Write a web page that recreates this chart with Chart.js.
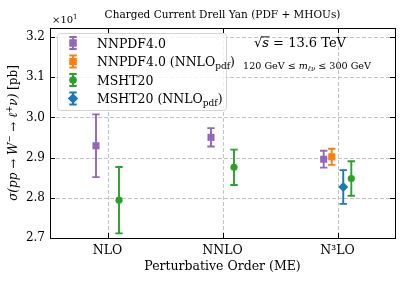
<!DOCTYPE html>
<html><head><meta charset="utf-8">
<script src="https://cdn.jsdelivr.net/npm/chart.js@4.4.1/dist/chart.umd.min.js"></script>
<style>html,body{margin:0;padding:0;background:#fff;}canvas{display:block;}</style>
</head><body>
<canvas id="c" width="407" height="285"></canvas>
<script>
// perturbative orders on the x axis and y ticks (x10^1 pb)
const orders = ['NLO', 'NNLO', 'N³LO'];
const yTicks = [2.7, 2.8, 2.9, 3.0, 3.1, 3.2];

// central values and symmetric uncertainties, one entry per order (null = not shown)
const nnpdfVal    = [2.9295, 2.9505, 2.896];
const nnpdfErr    = [0.078, 0.023, 0.021];
const nnpdfPdfVal = [null, null, 2.902];
const nnpdfPdfErr = [null, null, 0.020];
const mshtVal     = [2.794, 2.876, 2.848];
const mshtErr     = [0.0825, 0.044, 0.043];
const mshtPdfVal  = [null, null, 2.827];
const mshtPdfErr  = [null, null, 0.042];

const SERIF = '"DejaVu Serif", serif';

// series styling; dx = horizontal dodge per order
const series = [
  { name: 'NNPDF4.0', sub: null, vals: nnpdfVal, errs: nnpdfErr, color: '#9467bd', shape: 'rect', r: 5, dx: [-0.1, -0.1, -0.12] },
  { name: 'NNPDF4.0 (NNLO', sub: 'pdf', vals: nnpdfPdfVal, errs: nnpdfPdfErr, color: '#ff7f0e', shape: 'rect', r: 5, dx: [0, 0, -0.05] },
  { name: 'MSHT20', sub: null, vals: mshtVal, errs: mshtErr, color: '#2ca02c', shape: 'circle', r: 3.6, dx: [0.1, 0.1, 0.12] },
  { name: 'MSHT20 (NNLO', sub: 'pdf', vals: mshtPdfVal, errs: mshtPdfErr, color: '#1f77b4', shape: 'rectRot', r: 5, dx: [0, 0, 0.05] }
];

function font(s) {
  return (s.it ? 'italic ' : '') + s.size + 'px ' + SERIF;
}
// draws a run of text pieces (for sub/superscripts)
function rich(ctx, segs, x, y, align) {
  let w = 0;
  segs.forEach(s => { ctx.font = font(s); s.w = ctx.measureText(s.t).width; w += s.w; });
  let cx = align === 'center' ? x - w / 2 : (align === 'right' ? x - w : x);
  ctx.textAlign = 'left';
  ctx.textBaseline = 'alphabetic';
  segs.forEach(s => {
    ctx.font = font(s);
    ctx.fillText(s.t, cx, y + (s.dy || 0));
    if (s.over) {
      ctx.beginPath();
      ctx.lineWidth = 0.9;
      ctx.moveTo(cx - 1, y - s.size * 0.78);
      ctx.lineTo(cx + s.w + 0.5, y - s.size * 0.78);
      ctx.stroke();
    }
    cx += s.w;
  });
}

function errorBar(ctx, x, y1, y2, color) {
  ctx.strokeStyle = color;
  ctx.lineWidth = 1.9;
  ctx.beginPath();
  ctx.moveTo(x, y1); ctx.lineTo(x, y2);
  ctx.moveTo(x - 3.7, y1); ctx.lineTo(x + 3.7, y1);
  ctx.moveTo(x - 3.7, y2); ctx.lineTo(x + 3.7, y2);
  ctx.stroke();
}

const decor = {
  id: 'decor',
  beforeDatasetsDraw(chart) {
    const { ctx, chartArea: a, scales: { x, y } } = chart;
    ctx.save();
    // dashed grid
    ctx.strokeStyle = '#c4c4c4';
    ctx.lineWidth = 1;
    ctx.setLineDash([4, 2]);
    ctx.beginPath();
    yTicks.forEach(v => { const p = Math.round(y.getPixelForValue(v)) + 0.5; ctx.moveTo(a.left, p); ctx.lineTo(a.right, p); });
    orders.forEach((o, i) => { const p = Math.round(x.getPixelForValue(i)) + 0.5; ctx.moveTo(p, a.top); ctx.lineTo(p, a.bottom); });
    ctx.stroke();
    ctx.setLineDash([]);
    // error bars
    chart.data.datasets.forEach(ds => {
      ds.data.forEach(pt => {
        const px = x.getPixelForValue(pt.x);
        errorBar(ctx, px, y.getPixelForValue(pt.y + pt.e), y.getPixelForValue(pt.y - pt.e), ds.borderColor);
      });
    });
    ctx.restore();
  },
  afterDraw(chart) {
    const { ctx, chartArea: a, scales: { x, y } } = chart;
    ctx.save();
    // frame and inward ticks
    ctx.strokeStyle = '#000';
    ctx.lineWidth = 1;
    ctx.strokeRect(a.left + 0.5, a.top + 0.5, a.right - a.left, a.bottom - a.top);
    ctx.beginPath();
    yTicks.forEach(v => {
      const p = Math.round(y.getPixelForValue(v)) + 0.5;
      ctx.moveTo(a.left, p); ctx.lineTo(a.left + 5, p);
      ctx.moveTo(a.right, p); ctx.lineTo(a.right - 5, p);
    });
    orders.forEach((o, i) => {
      const p = Math.round(x.getPixelForValue(i)) + 0.5;
      ctx.moveTo(p, a.bottom); ctx.lineTo(p, a.bottom - 5);
      ctx.moveTo(p, a.top); ctx.lineTo(p, a.top + 5);
    });
    ctx.stroke();

    ctx.fillStyle = '#000';
    ctx.strokeStyle = '#000';
    // title
    rich(ctx, [{ t: 'Charged Current Drell Yan (PDF + MHOUs)', size: 10.5 }], (a.left + a.right) / 2, 18, 'center');
    // offset label
    rich(ctx, [{ t: '×10', size: 10 }, { t: '1', size: 7, dy: -4 }], a.left + 2, 23, 'left');
    // x title
    rich(ctx, [{ t: 'Perturbative Order (ME)', size: 12.5 }], (a.left + a.right) / 2, 270, 'center');
    // y title
    ctx.save();
    ctx.translate(13, (a.top + a.bottom) / 2);
    ctx.rotate(-Math.PI / 2);
    rich(ctx, [
      { t: 'σ(pp → W', size: 12, it: true }, { t: '−', size: 8.5, dy: -5 },
      { t: ' → ℓ', size: 12, it: true }, { t: '+', size: 8.5, dy: -5 },
      { t: 'ν)', size: 12, it: true }, { t: ' [pb]', size: 12 }
    ], 0, 4, 'center');
    ctx.restore();
    // annotations
    rich(ctx, [{ t: '√', size: 13 }, { t: 's', size: 13, it: true, over: true }, { t: ' = 13.6 TeV', size: 13 }], 300, 47, 'center');
    rich(ctx, [
      { t: '120 GeV ≤ ', size: 9.6 }, { t: 'm', size: 9.6, it: true }, { t: 'ℓν', size: 7, it: true, dy: 2 },
      { t: ' ≤ 300 GeV', size: 9.6 }
    ], 307, 69, 'center');

    // legend
    const lx = 57, ly = 33, lw = 169, lh = 77;
    ctx.fillStyle = 'rgba(255,255,255,0.8)';
    ctx.strokeStyle = '#d3d3d3';
    ctx.lineWidth = 1;
    ctx.beginPath();
    ctx.roundRect(lx + 0.5, ly + 0.5, lw, lh, 3);
    ctx.fill();
    ctx.stroke();
    series.forEach((s, i) => {
      const cy = 43 + i * 18.5;
      errorBar(ctx, 73, cy - 6, cy + 6, s.color);
      ctx.fillStyle = s.color;
      Chart.helpers.drawPoint(ctx, { pointStyle: s.shape, radius: s.r, borderWidth: 0, rotation: 0 }, 73, cy);
      ctx.fill();
      ctx.fillStyle = '#000';
      const segs = [{ t: s.name, size: 12.5 }];
      if (s.sub) segs.push({ t: s.sub, size: 9, dy: 2.5 }, { t: ')', size: 12.5 });
      rich(ctx, segs, 97, cy + 4.5, 'left');
    });
    ctx.restore();
  }
};

const datasets = series.map(s => ({
  label: s.name,
  data: s.vals.map((v, i) => v == null ? null : { x: i + s.dx[i], y: v, e: s.errs[i] }).filter(p => p),
  backgroundColor: s.color,
  borderColor: s.color,
  pointStyle: s.shape,
  pointRadius: s.r,
  pointBorderWidth: 0
}));

new Chart(document.getElementById('c'), {
  type: 'scatter',
  data: { datasets },
  options: {
    responsive: false,
    animation: false,
    events: [],
    layout: { padding: { left: 0, top: 28, right: 12, bottom: 0 } },
    plugins: { legend: { display: false }, tooltip: { enabled: false } },
    scales: {
      x: {
        type: 'linear', min: -0.5, max: 2.5,
        grid: { display: false, drawTicks: false },
        border: { display: false },
        afterBuildTicks: sc => { sc.ticks = orders.map((o, i) => ({ value: i })); },
        afterFit: sc => { sc.height = 47; },
        ticks: {
          padding: 5, color: '#000', maxRotation: 0,
          font: { family: SERIF, size: 12.5 },
          callback: v => orders[v]
        }
      },
      y: {
        min: 2.7, max: 3.2225,
        grid: { display: false, drawTicks: false },
        border: { display: false },
        afterBuildTicks: sc => { sc.ticks = yTicks.map(v => ({ value: v })); },
        afterFit: sc => { sc.width = 50; },
        ticks: {
          padding: 5, color: '#000',
          font: { family: SERIF, size: 12 },
          callback: v => v.toFixed(1)
        }
      }
    }
  },
  plugins: [decor]
});
</script>
</body></html>
